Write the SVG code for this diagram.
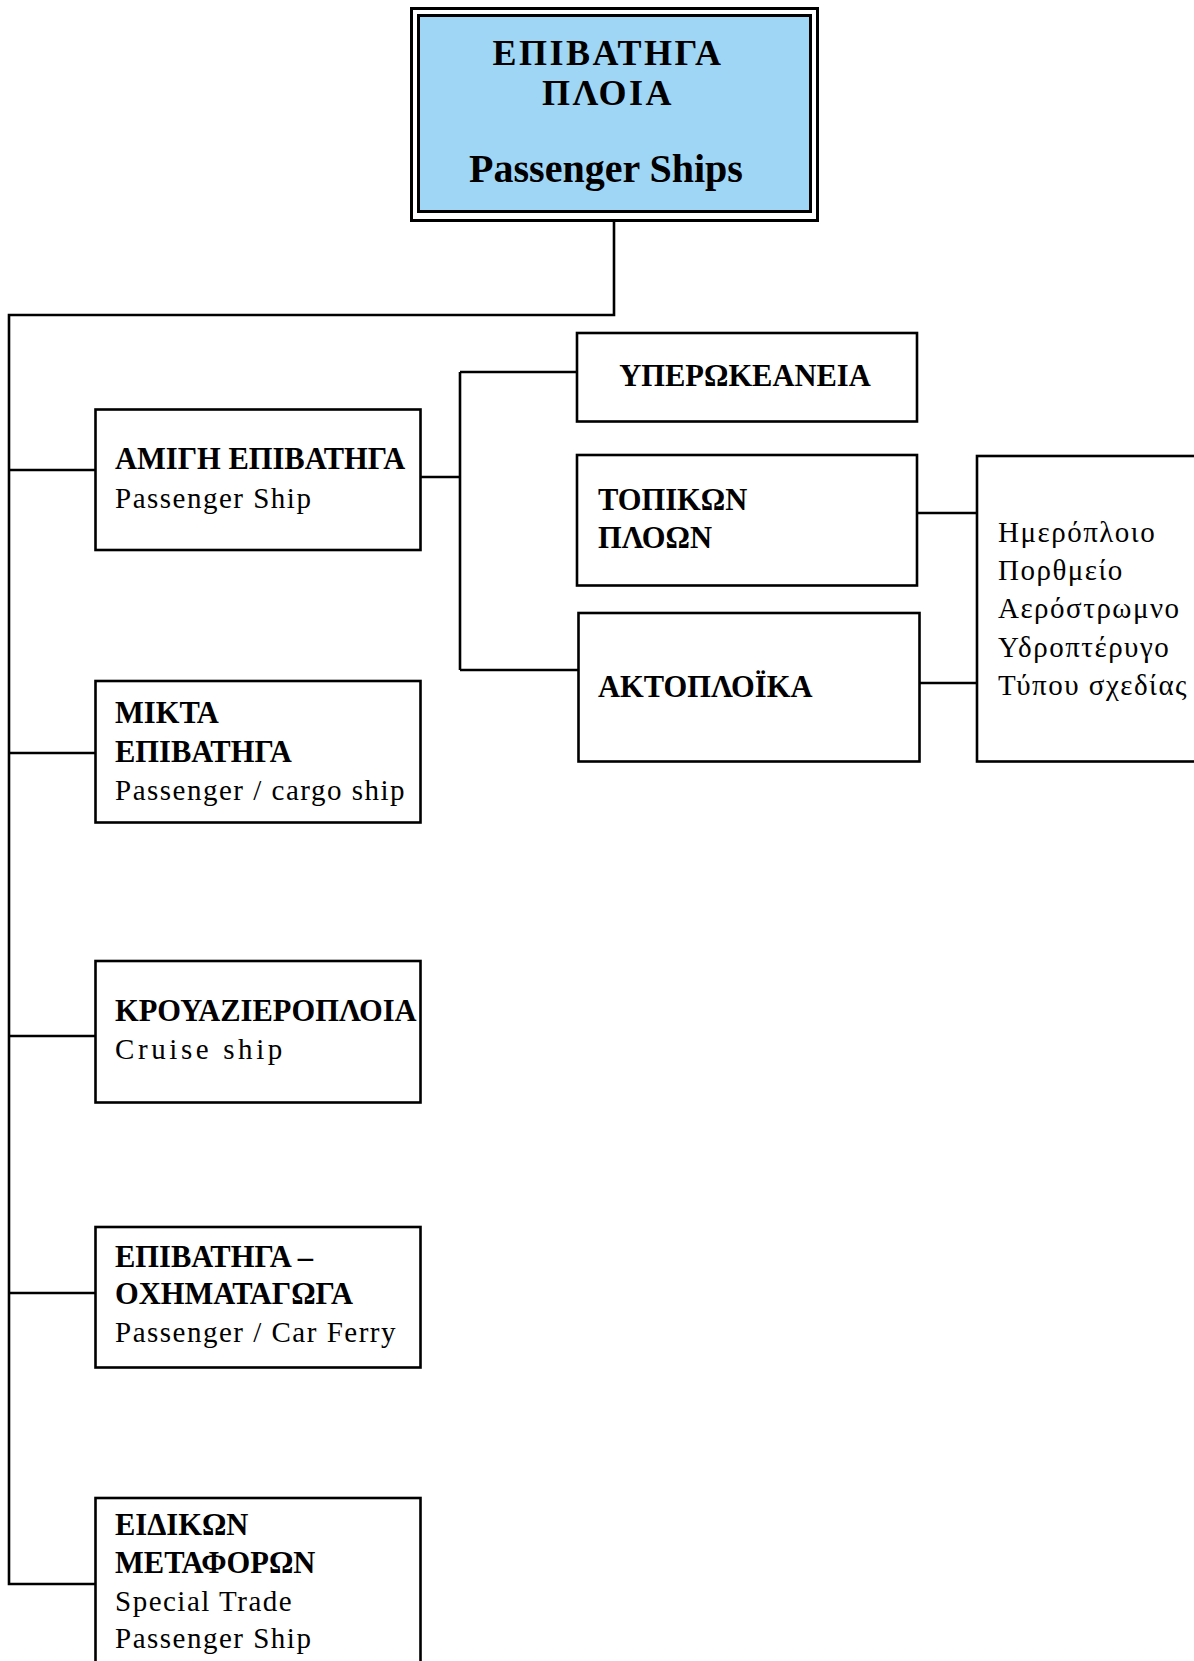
<svg xmlns="http://www.w3.org/2000/svg" width="1194" height="1661" viewBox="0 0 1194 1661">
<style>
.box{fill:#fff;stroke:#000;stroke-width:2.6}
.b{font-family:"Liberation Serif","Times New Roman",serif;font-weight:bold;font-size:30.5px;fill:#000}
.r{font-family:"Liberation Serif","Times New Roman",serif;font-size:29px;letter-spacing:1.5px;fill:#000}
.t{font-family:"Liberation Serif","Times New Roman",serif;font-weight:bold;font-size:40px;fill:#000;text-anchor:middle}
.tg{font-size:36px;letter-spacing:2.5px}
.c{fill:none;stroke:#000;stroke-width:2.6}
</style>
<rect width="1194" height="1661" fill="#fff"/>
<g id="connectors">
<polyline class="c" points="614,222 614,315 9,315 9,1584 95,1584"/>
<line class="c" x1="9" y1="470" x2="95" y2="470"/>
<line class="c" x1="9" y1="753" x2="95" y2="753"/>
<line class="c" x1="9" y1="1036" x2="95" y2="1036"/>
<line class="c" x1="9" y1="1293" x2="95" y2="1293"/>
<line class="c" x1="421" y1="477" x2="460" y2="477"/>
<line class="c" x1="460" y1="372" x2="460" y2="670"/>
<line class="c" x1="460" y1="372" x2="577" y2="372"/>
<line class="c" x1="460" y1="670" x2="578" y2="670"/>
<line class="c" x1="917" y1="513" x2="977" y2="513"/>
<line class="c" x1="919" y1="683" x2="977" y2="683"/>
</g>
<g id="root">
<rect x="411.5" y="8.5" width="406" height="212" fill="#fff" stroke="#000" stroke-width="3"/>
<rect x="418.5" y="15.5" width="392" height="196" fill="#A0D6F5" stroke="#000" stroke-width="3"/>
<text class="t tg" x="608" y="65">ΕΠΙΒΑΤΗΓΑ</text>
<text class="t tg" x="608" y="105">ΠΛΟΙΑ</text>
<text class="t" x="606" y="182">Passenger Ships</text>
</g>
<g id="amigi">
<rect class="box" x="95.5" y="409.5" width="325" height="140.5"/>
<text class="b" x="115" y="469">ΑΜΙΓΗ ΕΠΙΒΑΤΗΓΑ</text>
<text class="r" x="115" y="508">Passenger Ship</text>
</g>
<g id="mikta">
<rect class="box" x="95.5" y="681" width="325" height="141.5"/>
<text class="b" x="115" y="723">ΜΙΚΤΑ</text>
<text class="b" x="115" y="762">ΕΠΙΒΑΤΗΓΑ</text>
<text class="r" x="115" y="800">Passenger / cargo ship</text>
</g>
<g id="krouaz">
<rect class="box" x="95.5" y="961" width="325" height="141.5"/>
<text class="b" x="115" y="1021">ΚΡΟΥΑΖΙΕΡΟΠΛΟΙΑ</text>
<text class="r" x="115" y="1059" style="letter-spacing:3.6px">Cruise ship</text>
</g>
<g id="ochimatagoga">
<rect class="box" x="95.5" y="1227" width="325" height="140.5"/>
<text class="b" x="115" y="1267">ΕΠΙΒΑΤΗΓΑ –</text>
<text class="b" x="115" y="1304">ΟΧΗΜΑΤΑΓΩΓΑ</text>
<text class="r" x="115" y="1342">Passenger / Car Ferry</text>
</g>
<g id="eidikon">
<rect class="box" x="95.5" y="1498" width="325" height="220"/>
<text class="b" x="115" y="1535">ΕΙΔΙΚΩΝ</text>
<text class="b" x="115" y="1573">ΜΕΤΑΦΟΡΩΝ</text>
<text class="r" x="115" y="1611">Special Trade</text>
<text class="r" x="115" y="1648">Passenger Ship</text>
</g>
<g id="yperokeaneia">
<rect class="box" x="577" y="333" width="340" height="88.5"/>
<text class="b" x="745" y="386" text-anchor="middle">ΥΠΕΡΩΚΕΑΝΕΙΑ</text>
</g>
<g id="topikon">
<rect class="box" x="577" y="455" width="340" height="130.5"/>
<text class="b" x="598" y="510">ΤΟΠΙΚΩΝ</text>
<text class="b" x="598" y="548">ΠΛΟΩΝ</text>
</g>
<g id="aktoploika">
<rect class="box" x="578.5" y="613" width="341" height="148.5"/>
<text class="b" x="598" y="697">ΑΚΤΟΠΛΟΪΚΑ</text>
</g>
<g id="types">
<rect class="box" x="977" y="456" width="240" height="305.5"/>
<text class="r" x="998" y="542">Ημερόπλοιο</text>
<text class="r" x="998" y="580">Πορθμείο</text>
<text class="r" x="998" y="618">Αερόστρωμνο</text>
<text class="r" x="998" y="657">Υδροπτέρυγο</text>
<text class="r" x="998" y="695">Τύπου σχεδίας</text>
</g>
</svg>
